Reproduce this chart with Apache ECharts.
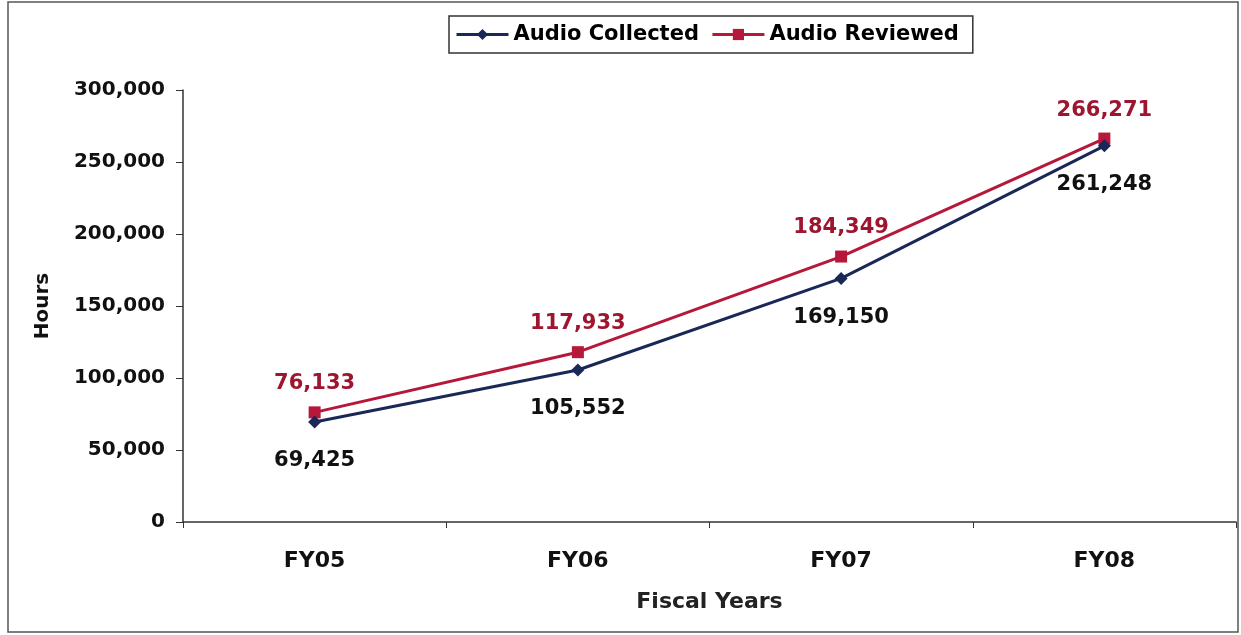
<!DOCTYPE html>
<html>
<head>
<meta charset="utf-8">
<script src="https://cdn.jsdelivr.net/npm/echarts@6/dist/echarts.min.js"></script>
<style>
  html, body { margin: 0; padding: 0; background: #fff; }
  #chart { width: 1241px; height: 635px; }
</style>
</head>
<body>
<div id="chart"></div>
<script>
const years = ["FY05", "FY06", "FY07", "FY08"];
const audioCollected = [69425, 105552, 169150, 261248];
const audioReviewed = [76133, 117933, 184349, 266271];

const chart = echarts.init(document.getElementById("chart"));
const font = "DejaVu Sans, sans-serif";

chart.setOption({
  animation: false,
  textStyle: { fontFamily: font },
  graphic: [
    {
      type: "rect",
      shape: { x: 8, y: 2, width: 1230, height: 630 },
      style: { fill: "none", stroke: "#555", lineWidth: 1.5 },
      silent: true,
    },
  ],
  legend: {
    top: 16,
    left: 449,
    itemGap: 12,
    itemWidth: 52,
    itemHeight: 14,
    padding: [8, 14, 8, 6],
    borderColor: "#333",
    borderWidth: 1.5,
    lineStyle: { width: 3 },
    textStyle: { fontSize: 21, fontWeight: "bold", color: "#000", fontFamily: font },
    data: ["Audio Collected", "Audio Reviewed"],
  },
  grid: { left: 183, right: 5, top: 90, bottom: 113, containLabel: false },
  xAxis: {
    type: "category",
    data: years,
    boundaryGap: true,
    name: "Fiscal Years",
    nameLocation: "middle",
    nameGap: 69,
    nameTextStyle: { fontSize: 22, fontWeight: "bold", color: "#222", fontFamily: font },
    axisLine: { lineStyle: { color: "#333", width: 1.5 } },
    axisTick: { show: true, length: 6, lineStyle: { color: "#333" } },
    axisLabel: { fontSize: 22, fontWeight: "bold", color: "#111", margin: 28 },
  },
  yAxis: {
    type: "value",
    min: 0,
    max: 300000,
    interval: 50000,
    name: "Hours",
    nameLocation: "middle",
    nameGap: 130,
    nameTextStyle: { fontSize: 20, fontWeight: "bold", color: "#111", fontFamily: font },
    splitLine: { show: false },
    axisLine: { show: true, lineStyle: { color: "#333", width: 1.5 } },
    axisTick: { show: true, length: 7, lineStyle: { color: "#333" } },
    axisLabel: {
      fontSize: 20,
      fontWeight: "bold",
      color: "#111",
      margin: 18,
      formatter: (v) => v.toLocaleString("en-US"),
    },
  },
  series: [
    {
      name: "Audio Collected",
      type: "line",
      data: audioCollected,
      symbol: "diamond",
      symbolSize: 13,
      itemStyle: { color: "#1a2858" },
      lineStyle: { color: "#1a2858", width: 3 },
      label: {
        show: true,
        position: "bottom",
        distance: 22,
        fontSize: 21,
        fontWeight: "bold",
        color: "#111",
        formatter: (p) => p.value.toLocaleString("en-US"),
      },
      z: 3,
    },
    {
      name: "Audio Reviewed",
      type: "line",
      data: audioReviewed,
      symbol: "rect",
      symbolSize: 12,
      itemStyle: { color: "#b5183a" },
      lineStyle: { color: "#b5183a", width: 3 },
      label: {
        show: true,
        position: "top",
        distance: 12,
        fontSize: 21,
        fontWeight: "bold",
        color: "#9e1530",
        formatter: (p) => p.value.toLocaleString("en-US"),
      },
      z: 2,
    },
  ],
});
</script>
</body>
</html>
